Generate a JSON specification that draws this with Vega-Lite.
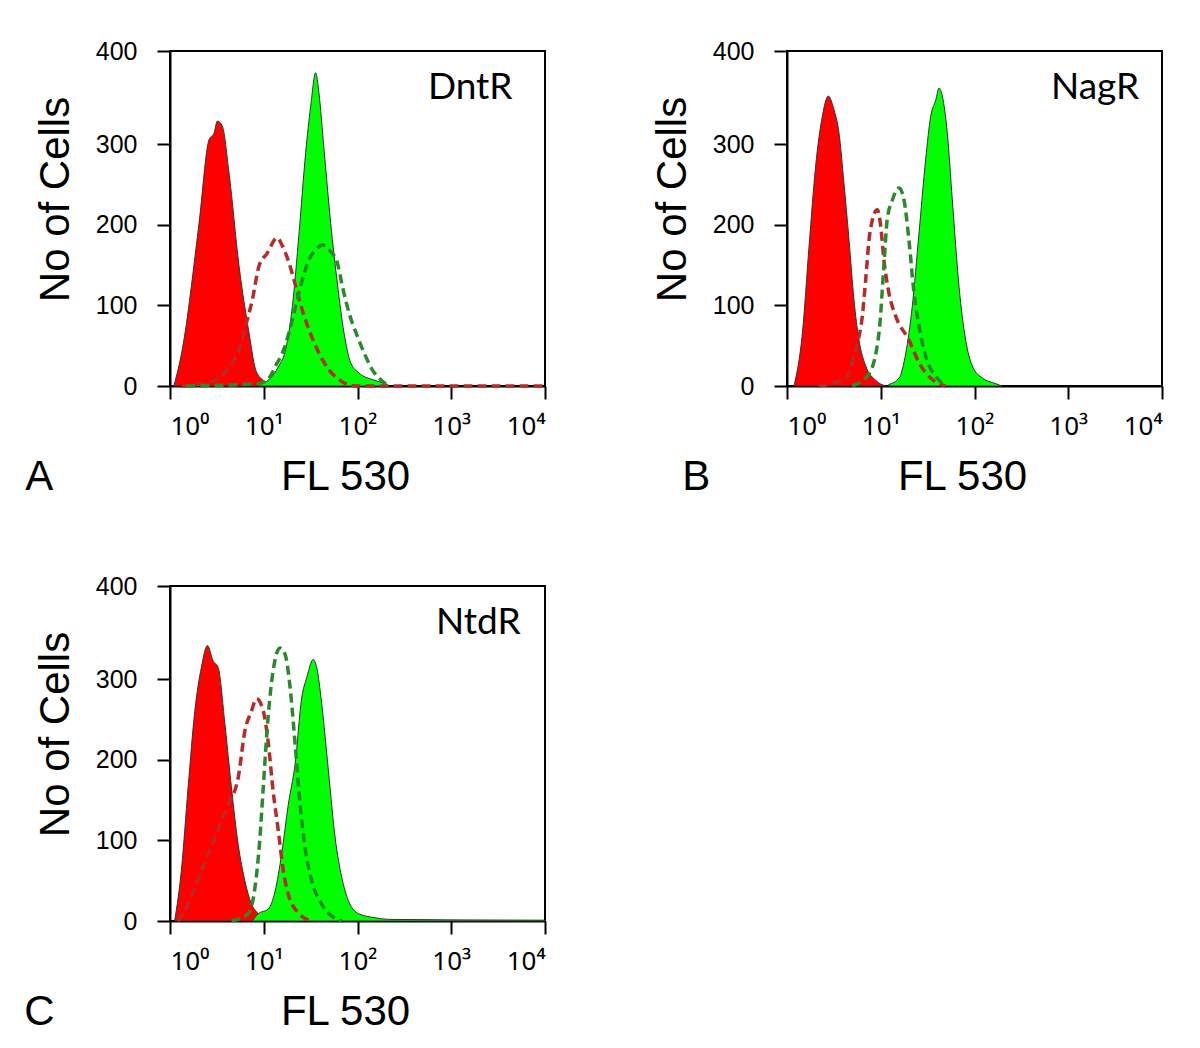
{
  "$schema": "https://vega.github.io/schema/vega-lite/v6.json",
  "background": "white",
  "padding": {"left": 23, "top": 38, "right": 5, "bottom": 5},
  "bounds": "flush",
  "spacing": 535,
  "config": {
    "view": {"stroke": "black", "strokeWidth": 2},
    "axis": {"grid": false, "domainColor": "black", "domainWidth": 2, "tickColor": "black", "tickWidth": 2, "tickSize": 13, "labelFont": "Liberation Sans", "labelFontSize": 25, "labelColor": "black", "titleFont": "Liberation Sans", "titleFontSize": 42, "titleFontWeight": "normal", "titleColor": "black"},
    "axisX": {"labelPadding": 14, "titlePadding": 17, "labelFont": "Noto Sans", "labelFontSize": 26, "titleX": 175},
    "axisY": {"labelPadding": 20, "titlePadding": 18, "titleY": 148}
  },
  "datasets": {
    "flow": [
      {"panel":"A","series":"control","fl":1.1,"cells":0},
      {"panel":"A","series":"control","fl":1.35,"cells":45},
      {"panel":"A","series":"control","fl":2.04,"cells":202},
      {"panel":"A","series":"control","fl":2.61,"cells":306},
      {"panel":"A","series":"control","fl":2.95,"cells":314},
      {"panel":"A","series":"control","fl":3.2,"cells":329},
      {"panel":"A","series":"control","fl":3.61,"cells":323},
      {"panel":"A","series":"control","fl":4.26,"cells":265},
      {"panel":"A","series":"control","fl":5.45,"cells":149},
      {"panel":"A","series":"control","fl":6.96,"cells":66},
      {"panel":"A","series":"control","fl":8.21,"cells":20},
      {"panel":"A","series":"control","fl":9.66,"cells":8},
      {"panel":"A","series":"control","fl":11.4,"cells":3},
      {"panel":"A","series":"control","fl":13,"cells":0},
      {"panel":"A","series":"induced","fl":8.9,"cells":2},
      {"panel":"A","series":"induced","fl":11.4,"cells":8},
      {"panel":"A","series":"induced","fl":14.5,"cells":25},
      {"panel":"A","series":"induced","fl":17.1,"cells":45},
      {"panel":"A","series":"induced","fl":20.2,"cells":99},
      {"panel":"A","series":"induced","fl":23.8,"cells":190},
      {"panel":"A","series":"induced","fl":28,"cells":290},
      {"panel":"A","series":"induced","fl":31.7,"cells":348},
      {"panel":"A","series":"induced","fl":35.8,"cells":389},
      {"panel":"A","series":"induced","fl":38.8,"cells":364},
      {"panel":"A","series":"induced","fl":44,"cells":293},
      {"panel":"A","series":"induced","fl":51.8,"cells":202},
      {"panel":"A","series":"induced","fl":60.9,"cells":128},
      {"panel":"A","series":"induced","fl":71.8,"cells":66},
      {"panel":"A","series":"induced","fl":84.6,"cells":29},
      {"panel":"A","series":"induced","fl":104,"cells":16},
      {"panel":"A","series":"induced","fl":144,"cells":8},
      {"panel":"A","series":"induced","fl":184,"cells":4},
      {"panel":"A","series":"induced","fl":217,"cells":0},
      {"panel":"A","series":"control_dashed","fl":1.35,"cells":0},
      {"panel":"A","series":"control_dashed","fl":2.04,"cells":2},
      {"panel":"A","series":"control_dashed","fl":3.33,"cells":10},
      {"panel":"A","series":"control_dashed","fl":4.62,"cells":29},
      {"panel":"A","series":"control_dashed","fl":5.45,"cells":45},
      {"panel":"A","series":"control_dashed","fl":6.42,"cells":75},
      {"panel":"A","series":"control_dashed","fl":7.55,"cells":107},
      {"panel":"A","series":"control_dashed","fl":8.9,"cells":149},
      {"panel":"A","series":"control_dashed","fl":10.9,"cells":165},
      {"panel":"A","series":"control_dashed","fl":13.9,"cells":184},
      {"panel":"A","series":"control_dashed","fl":15.8,"cells":174},
      {"panel":"A","series":"control_dashed","fl":18.6,"cells":153},
      {"panel":"A","series":"control_dashed","fl":21.9,"cells":124},
      {"panel":"A","series":"control_dashed","fl":25.8,"cells":94},
      {"panel":"A","series":"control_dashed","fl":30.4,"cells":70},
      {"panel":"A","series":"control_dashed","fl":38.8,"cells":41},
      {"panel":"A","series":"control_dashed","fl":49.7,"cells":20},
      {"panel":"A","series":"control_dashed","fl":63.5,"cells":8},
      {"panel":"A","series":"control_dashed","fl":95.7,"cells":0},
      {"panel":"A","series":"control_dashed","fl":10000,"cells":0},
      {"panel":"A","series":"induced_dashed","fl":1.5,"cells":0},
      {"panel":"A","series":"induced_dashed","fl":8.9,"cells":3},
      {"panel":"A","series":"induced_dashed","fl":11.4,"cells":10},
      {"panel":"A","series":"induced_dashed","fl":13.4,"cells":25},
      {"panel":"A","series":"induced_dashed","fl":15.8,"cells":41},
      {"panel":"A","series":"induced_dashed","fl":18.6,"cells":66},
      {"panel":"A","series":"induced_dashed","fl":21.9,"cells":99},
      {"panel":"A","series":"induced_dashed","fl":25.8,"cells":132},
      {"panel":"A","series":"induced_dashed","fl":30.4,"cells":157},
      {"panel":"A","series":"induced_dashed","fl":35.8,"cells":169},
      {"panel":"A","series":"induced_dashed","fl":42.2,"cells":175},
      {"panel":"A","series":"induced_dashed","fl":49.7,"cells":169},
      {"panel":"A","series":"induced_dashed","fl":60.9,"cells":153},
      {"panel":"A","series":"induced_dashed","fl":68.9,"cells":124},
      {"panel":"A","series":"induced_dashed","fl":81.2,"cells":91},
      {"panel":"A","series":"induced_dashed","fl":99.5,"cells":62},
      {"panel":"A","series":"induced_dashed","fl":122,"cells":37},
      {"panel":"A","series":"induced_dashed","fl":144,"cells":20},
      {"panel":"A","series":"induced_dashed","fl":184,"cells":6},
      {"panel":"A","series":"induced_dashed","fl":217,"cells":0},

      {"panel":"B","series":"control","fl":1.19,"cells":0},
      {"panel":"B","series":"control","fl":1.46,"cells":66},
      {"panel":"B","series":"control","fl":1.72,"cells":174},
      {"panel":"B","series":"control","fl":2.02,"cells":273},
      {"panel":"B","series":"control","fl":2.38,"cells":335},
      {"panel":"B","series":"control","fl":2.76,"cells":360},
      {"panel":"B","series":"control","fl":3.17,"cells":343},
      {"panel":"B","series":"control","fl":3.59,"cells":314},
      {"panel":"B","series":"control","fl":4.05,"cells":252},
      {"panel":"B","series":"control","fl":4.59,"cells":181},
      {"panel":"B","series":"control","fl":5.18,"cells":107},
      {"panel":"B","series":"control","fl":5.86,"cells":57},
      {"panel":"B","series":"control","fl":6.91,"cells":25},
      {"panel":"B","series":"control","fl":8.83,"cells":7},
      {"panel":"B","series":"control","fl":11.3,"cells":0},
      {"panel":"B","series":"induced","fl":12.2,"cells":2},
      {"panel":"B","series":"induced","fl":15.7,"cells":10},
      {"panel":"B","series":"induced","fl":18.5,"cells":41},
      {"panel":"B","series":"induced","fl":21.7,"cells":99},
      {"panel":"B","series":"induced","fl":25.6,"cells":190},
      {"panel":"B","series":"induced","fl":30.1,"cells":281},
      {"panel":"B","series":"induced","fl":34.1,"cells":335},
      {"panel":"B","series":"induced","fl":38.6,"cells":355},
      {"panel":"B","series":"induced","fl":41.8,"cells":370},
      {"panel":"B","series":"induced","fl":45.4,"cells":360},
      {"panel":"B","series":"induced","fl":51.3,"cells":314},
      {"panel":"B","series":"induced","fl":58,"cells":231},
      {"panel":"B","series":"induced","fl":68.3,"cells":124},
      {"panel":"B","series":"induced","fl":80.5,"cells":57},
      {"panel":"B","series":"induced","fl":94.8,"cells":25},
      {"panel":"B","series":"induced","fl":121,"cells":10},
      {"panel":"B","series":"induced","fl":168,"cells":3},
      {"panel":"B","series":"induced","fl":196,"cells":0},
      {"panel":"B","series":"control_dashed","fl":2.19,"cells":0},
      {"panel":"B","series":"control_dashed","fl":4.23,"cells":10},
      {"panel":"B","series":"control_dashed","fl":5.4,"cells":45},
      {"panel":"B","series":"control_dashed","fl":6.36,"cells":87},
      {"panel":"B","series":"control_dashed","fl":6.91,"cells":132},
      {"panel":"B","series":"control_dashed","fl":7.49,"cells":181},
      {"panel":"B","series":"control_dashed","fl":8.13,"cells":206},
      {"panel":"B","series":"control_dashed","fl":9.19,"cells":219},
      {"panel":"B","series":"control_dashed","fl":9.98,"cells":199},
      {"panel":"B","series":"control_dashed","fl":10.8,"cells":157},
      {"panel":"B","series":"control_dashed","fl":12.2,"cells":116},
      {"panel":"B","series":"control_dashed","fl":14.4,"cells":87},
      {"panel":"B","series":"control_dashed","fl":20,"cells":57},
      {"panel":"B","series":"control_dashed","fl":25.6,"cells":29},
      {"panel":"B","series":"control_dashed","fl":35.5,"cells":8},
      {"panel":"B","series":"control_dashed","fl":49.3,"cells":0},
      {"panel":"B","series":"induced_dashed","fl":4.97,"cells":0},
      {"panel":"B","series":"induced_dashed","fl":7.49,"cells":15},
      {"panel":"B","series":"induced_dashed","fl":9.58,"cells":66},
      {"panel":"B","series":"induced_dashed","fl":10.8,"cells":149},
      {"panel":"B","series":"induced_dashed","fl":11.7,"cells":206},
      {"panel":"B","series":"induced_dashed","fl":13.3,"cells":231},
      {"panel":"B","series":"induced_dashed","fl":15.7,"cells":246},
      {"panel":"B","series":"induced_dashed","fl":17.7,"cells":231},
      {"panel":"B","series":"induced_dashed","fl":20,"cells":181},
      {"panel":"B","series":"induced_dashed","fl":22.6,"cells":116},
      {"panel":"B","series":"induced_dashed","fl":25.6,"cells":75},
      {"panel":"B","series":"induced_dashed","fl":30.1,"cells":37},
      {"panel":"B","series":"induced_dashed","fl":38.6,"cells":12},
      {"panel":"B","series":"induced_dashed","fl":49.3,"cells":0},

      {"panel":"C","series":"control","fl":1.12,"cells":0},
      {"panel":"C","series":"control","fl":1.32,"cells":62},
      {"panel":"C","series":"control","fl":1.56,"cells":166},
      {"panel":"C","series":"control","fl":1.84,"cells":261},
      {"panel":"C","series":"control","fl":2.16,"cells":315},
      {"panel":"C","series":"control","fl":2.51,"cells":342},
      {"panel":"C","series":"control","fl":2.88,"cells":323},
      {"panel":"C","series":"control","fl":3.26,"cells":315},
      {"panel":"C","series":"control","fl":3.85,"cells":245},
      {"panel":"C","series":"control","fl":4.52,"cells":166},
      {"panel":"C","series":"control","fl":5.34,"cells":95},
      {"panel":"C","series":"control","fl":6.29,"cells":50},
      {"panel":"C","series":"control","fl":7.41,"cells":21},
      {"panel":"C","series":"control","fl":8.73,"cells":9},
      {"panel":"C","series":"control","fl":9.88,"cells":0},
      {"panel":"C","series":"induced","fl":7.5,"cells":0},
      {"panel":"C","series":"induced","fl":8.73,"cells":9},
      {"panel":"C","series":"induced","fl":11.2,"cells":15},
      {"panel":"C","series":"induced","fl":13.2,"cells":37},
      {"panel":"C","series":"induced","fl":15.5,"cells":83},
      {"panel":"C","series":"induced","fl":18.3,"cells":145},
      {"panel":"C","series":"induced","fl":21.6,"cells":195},
      {"panel":"C","series":"induced","fl":25.4,"cells":277},
      {"panel":"C","series":"induced","fl":28.7,"cells":302},
      {"panel":"C","series":"induced","fl":33.8,"cells":325},
      {"panel":"C","series":"induced","fl":36.7,"cells":315},
      {"panel":"C","series":"induced","fl":41.5,"cells":270},
      {"panel":"C","series":"induced","fl":49,"cells":186},
      {"panel":"C","series":"induced","fl":57.8,"cells":103},
      {"panel":"C","series":"induced","fl":68,"cells":54},
      {"panel":"C","series":"induced","fl":80.1,"cells":25},
      {"panel":"C","series":"induced","fl":103,"cells":9},
      {"panel":"C","series":"induced","fl":155,"cells":4},
      {"panel":"C","series":"induced","fl":215,"cells":2},
      {"panel":"C","series":"induced","fl":10000,"cells":1},
      {"panel":"C","series":"control_dashed","fl":1.22,"cells":0},
      {"panel":"C","series":"control_dashed","fl":1.56,"cells":21},
      {"panel":"C","series":"control_dashed","fl":2.16,"cells":62},
      {"panel":"C","series":"control_dashed","fl":3.01,"cells":103},
      {"panel":"C","series":"control_dashed","fl":4.17,"cells":145},
      {"panel":"C","series":"control_dashed","fl":5.34,"cells":178},
      {"panel":"C","series":"control_dashed","fl":6.29,"cells":236},
      {"panel":"C","series":"control_dashed","fl":7.41,"cells":261},
      {"panel":"C","series":"control_dashed","fl":8.38,"cells":276},
      {"panel":"C","series":"control_dashed","fl":9.88,"cells":261},
      {"panel":"C","series":"control_dashed","fl":11.2,"cells":220},
      {"panel":"C","series":"control_dashed","fl":12.6,"cells":161},
      {"panel":"C","series":"control_dashed","fl":14.3,"cells":112},
      {"panel":"C","series":"control_dashed","fl":16.2,"cells":62},
      {"panel":"C","series":"control_dashed","fl":18.3,"cells":33},
      {"panel":"C","series":"control_dashed","fl":23.4,"cells":10},
      {"panel":"C","series":"control_dashed","fl":32.5,"cells":0},
      {"panel":"C","series":"induced_dashed","fl":4.52,"cells":0},
      {"panel":"C","series":"induced_dashed","fl":6.83,"cells":9},
      {"panel":"C","series":"induced_dashed","fl":8.05,"cells":41},
      {"panel":"C","series":"induced_dashed","fl":9.1,"cells":103},
      {"panel":"C","series":"induced_dashed","fl":9.88,"cells":166},
      {"panel":"C","series":"induced_dashed","fl":11.2,"cells":257},
      {"panel":"C","series":"induced_dashed","fl":12.6,"cells":311},
      {"panel":"C","series":"induced_dashed","fl":14.9,"cells":339},
      {"panel":"C","series":"induced_dashed","fl":16.9,"cells":331},
      {"panel":"C","series":"induced_dashed","fl":19.1,"cells":290},
      {"panel":"C","series":"induced_dashed","fl":21.6,"cells":220},
      {"panel":"C","series":"induced_dashed","fl":24.4,"cells":145},
      {"panel":"C","series":"induced_dashed","fl":27.6,"cells":91},
      {"panel":"C","series":"induced_dashed","fl":32.5,"cells":50},
      {"panel":"C","series":"induced_dashed","fl":41.5,"cells":21},
      {"panel":"C","series":"induced_dashed","fl":53.1,"cells":6},
      {"panel":"C","series":"induced_dashed","fl":68,"cells":0}
    ]
  },
  "vconcat": [
    {
      "hconcat": [
        {
          "width": 375, "height": 335,
          "title": {"text": "A", "orient": "bottom", "anchor": "start", "frame": "bounds", "offset": -40, "dx": -9, "font": "Liberation Sans", "fontSize": 42, "fontWeight": "normal", "color": "black"},
          "layer": [
            {"data": {"name": "flow"}, "transform": [{"filter": "datum.panel === 'A' && (datum.series === 'control' || datum.series === 'induced')"}],
             "mark": {"type": "area", "interpolate": "monotone", "stroke": "#333333", "strokeWidth": 1, "opacity": 1},
             "encoding": {
               "x": {"field": "fl", "type": "quantitative", "scale": {"type": "log", "domain": [1, 10000]}, "axis": {"values": [1, 10, 100, 1000, 10000], "labelExpr": "['10⁰','10¹','10²','10³','10⁴'][round(log(datum.value)/LN10)]"}, "title": "FL 530"},
               "y": {"field": "cells", "type": "quantitative", "stack": null, "scale": {"domain": [0, 416], "nice": false}, "axis": {"values": [0, 100, 200, 300, 416], "labelExpr": "datum.value > 400 ? '400' : datum.label"}, "title": "No of Cells"},
               "color": {"field": "series", "type": "nominal", "scale": {"domain": ["control", "induced", "control_dashed", "induced_dashed"], "range": ["#ff0000", "#00ff00", "#b82a26", "#2a8a2a"]}, "legend": null}}},
            {"data": {"name": "flow"}, "transform": [{"filter": "datum.panel === 'A' && (datum.series === 'control_dashed' || datum.series === 'induced_dashed')"}],
             "mark": {"type": "line", "interpolate": "monotone", "strokeDash": [9, 5], "strokeWidth": 3.5},
             "encoding": {
               "x": {"field": "fl", "type": "quantitative", "title": "FL 530"},
               "y": {"field": "cells", "type": "quantitative", "title": "No of Cells"},
               "color": {"field": "series", "type": "nominal", "scale": {"domain": ["control", "induced", "control_dashed", "induced_dashed"], "range": ["#ff0000", "#00ff00", "#b82a26", "#2a8a2a"]}, "legend": null}}},
            {"data": {"values": [{"gene": "DntR"}]},
             "mark": {"type": "text", "align": "right", "baseline": "top", "font": "Lato", "fontSize": 37, "fill": "black"},
             "encoding": {"x": {"datum": 4500, "type": "quantitative", "title": "FL 530"}, "y": {"datum": 392, "type": "quantitative", "title": "No of Cells"}, "text": {"field": "gene", "type": "nominal"}}}
          ]
        },
        {
          "width": 375, "height": 335,
          "title": {"text": "B", "orient": "bottom", "anchor": "start", "frame": "bounds", "offset": -40, "dx": 31, "font": "Liberation Sans", "fontSize": 42, "fontWeight": "normal", "color": "black"},
          "layer": [
            {"data": {"name": "flow"}, "transform": [{"filter": "datum.panel === 'B' && (datum.series === 'control' || datum.series === 'induced')"}],
             "mark": {"type": "area", "interpolate": "monotone", "stroke": "#333333", "strokeWidth": 1, "opacity": 1},
             "encoding": {
               "x": {"field": "fl", "type": "quantitative", "scale": {"type": "log", "domain": [1, 10000]}, "axis": {"values": [1, 10, 100, 1000, 10000], "labelExpr": "['10⁰','10¹','10²','10³','10⁴'][round(log(datum.value)/LN10)]"}, "title": "FL 530"},
               "y": {"field": "cells", "type": "quantitative", "stack": null, "scale": {"domain": [0, 416], "nice": false}, "axis": {"values": [0, 100, 200, 300, 416], "labelExpr": "datum.value > 400 ? '400' : datum.label"}, "title": "No of Cells"},
               "color": {"field": "series", "type": "nominal", "scale": {"domain": ["control", "induced", "control_dashed", "induced_dashed"], "range": ["#ff0000", "#00ff00", "#b82a26", "#2a8a2a"]}, "legend": null}}},
            {"data": {"name": "flow"}, "transform": [{"filter": "datum.panel === 'B' && (datum.series === 'control_dashed' || datum.series === 'induced_dashed')"}],
             "mark": {"type": "line", "interpolate": "monotone", "strokeDash": [9, 5], "strokeWidth": 3.5},
             "encoding": {
               "x": {"field": "fl", "type": "quantitative", "title": "FL 530"},
               "y": {"field": "cells", "type": "quantitative", "title": "No of Cells"},
               "color": {"field": "series", "type": "nominal", "scale": {"domain": ["control", "induced", "control_dashed", "induced_dashed"], "range": ["#ff0000", "#00ff00", "#b82a26", "#2a8a2a"]}, "legend": null}}},
            {"data": {"values": [{"gene": "NagR"}]},
             "mark": {"type": "text", "align": "right", "baseline": "top", "font": "Lato", "fontSize": 37, "fill": "black"},
             "encoding": {"x": {"datum": 5700, "type": "quantitative", "title": "FL 530"}, "y": {"datum": 392, "type": "quantitative", "title": "No of Cells"}, "text": {"field": "gene", "type": "nominal"}}}
          ]
        }
      ],
      "spacing": 242,
      "bounds": "flush"
    },
    {
      "width": 375, "height": 335,
      "title": {"text": "C", "orient": "bottom", "anchor": "start", "frame": "bounds", "offset": -40, "dx": -10, "font": "Liberation Sans", "fontSize": 42, "fontWeight": "normal", "color": "black"},
      "layer": [
        {"data": {"name": "flow"}, "transform": [{"filter": "datum.panel === 'C' && (datum.series === 'control' || datum.series === 'induced')"}],
         "mark": {"type": "area", "interpolate": "monotone", "stroke": "#333333", "strokeWidth": 1, "opacity": 1},
         "encoding": {
           "x": {"field": "fl", "type": "quantitative", "scale": {"type": "log", "domain": [1, 10000]}, "axis": {"values": [1, 10, 100, 1000, 10000], "labelExpr": "['10⁰','10¹','10²','10³','10⁴'][round(log(datum.value)/LN10)]"}, "title": "FL 530"},
           "y": {"field": "cells", "type": "quantitative", "stack": null, "scale": {"domain": [0, 416], "nice": false}, "axis": {"values": [0, 100, 200, 300, 416], "labelExpr": "datum.value > 400 ? '400' : datum.label"}, "title": "No of Cells"},
           "color": {"field": "series", "type": "nominal", "scale": {"domain": ["control", "induced", "control_dashed", "induced_dashed"], "range": ["#ff0000", "#00ff00", "#b82a26", "#2a8a2a"]}, "legend": null}}},
        {"data": {"name": "flow"}, "transform": [{"filter": "datum.panel === 'C' && (datum.series === 'control_dashed' || datum.series === 'induced_dashed')"}],
         "mark": {"type": "line", "interpolate": "monotone", "strokeDash": [9, 5], "strokeWidth": 3.5},
         "encoding": {
           "x": {"field": "fl", "type": "quantitative", "title": "FL 530"},
           "y": {"field": "cells", "type": "quantitative", "title": "No of Cells"},
           "color": {"field": "series", "type": "nominal", "scale": {"domain": ["control", "induced", "control_dashed", "induced_dashed"], "range": ["#ff0000", "#00ff00", "#b82a26", "#2a8a2a"]}, "legend": null}}},
        {"data": {"values": [{"gene": "NtdR"}]},
         "mark": {"type": "text", "align": "right", "baseline": "top", "font": "Lato", "fontSize": 37, "fill": "black"},
         "encoding": {"x": {"datum": 5500, "type": "quantitative", "title": "FL 530"}, "y": {"datum": 392, "type": "quantitative", "title": "No of Cells"}, "text": {"field": "gene", "type": "nominal"}}}
      ]
    }
  ]
}
